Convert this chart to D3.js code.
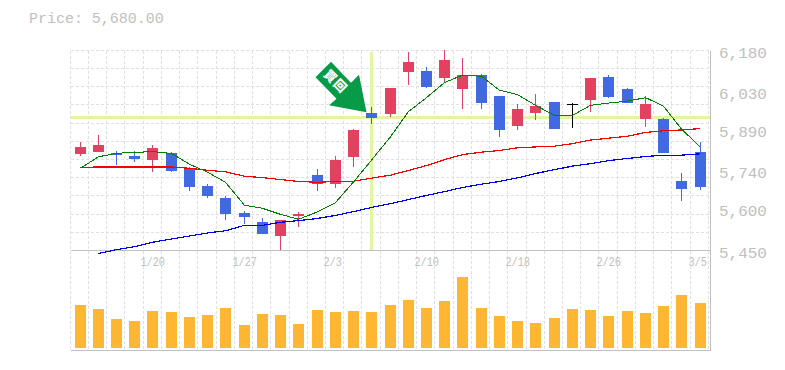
<!DOCTYPE html>
<html><head><meta charset="utf-8">
<style>html,body{margin:0;padding:0;background:#fff}svg{display:block}text{font-family:"Liberation Mono",monospace;fill:#c0c0c0}</style>
<script src="https://cdn.jsdelivr.net/npm/d3@7"></script></head><body>
<svg id="c" width="785" height="370"></svg>
<script>
const title = "Price: 5,680.00";
const open  = [5801,5809,5805,5794,5780,5805,5750,5685,5641,5586,5553,5502,5575,5725,5692,5791,5951,5947,6101,6104,6079,6039,6090,6013,5904,5951,5991,5984,5999,6083,6039,5929,5929,5703,5809];
const high  = [5845,5871,5812,5812,5834,5809,5754,5692,5648,5593,5568,5561,5590,5747,5794,5893,5973,6042,6174,6119,6181,6152,6093,6013,5984,6020,5991,5988,6079,6090,6042,6013,5933,5732,5845];
const low   = [5794,5809,5761,5772,5736,5736,5666,5641,5561,5546,5509,5451,5535,5666,5677,5754,5911,5937,6053,6042,6061,5966,5966,5864,5889,5926,5893,5896,5955,6006,5988,5900,5805,5630,5670];
const close = [5827,5834,5798,5783,5823,5739,5681,5648,5582,5571,5509,5561,5582,5692,5780,5889,5933,6042,6137,6046,6145,6090,5988,5889,5966,5977,5893,5984,6079,6010,5988,5984,5805,5674,5681];
const ma5   = [5750,5792,5805,5808,5811,5804,5765,5736,5699,5615,5604,5582,5564,5591,5625,5700,5780,5865,5957,6008,6063,6090,6086,6035,6019,5980,5943,5943,5980,5988,5995,6008,5977,5893,5827];
const ma20  = [5753,5755,5755,5755,5755,5755,5750,5743,5737,5721,5716,5709,5702,5699,5702,5703,5714,5725,5742,5760,5782,5800,5809,5815,5825,5828,5831,5840,5853,5860,5867,5881,5887,5890,5895];
const ma60  = [null,5439,5453,5464,5480,5492,5503,5514,5522,5542,5542,5553,5559,5567,5578,5592,5607,5621,5636,5651,5665,5680,5692,5702,5715,5731,5745,5758,5767,5778,5786,5793,5798,5798,5803];
const volume= [43,39,29,27,37,36,31,33,40,23,34,33,24,38,36,37,36,43,48,40,47,71,40,32,27,25,30,39,38,32,37,35,42,53,45];
const priceTicks = [6180,6030,5890,5740,5600,5450];
const dateLabels = [[4,"1/20"],[9,"1/27"],[14,"2/3"],[19,"2/10"],[24,"2/18"],[29,"2/26"],[34,"3/5"]];
const signalIndex = 16, signalPrice = 5936, signalText = "買回";

const svg = d3.select("#c");
const L = 70.5, R = 710.5, T = 50.5, B = 250.5, VB = 348;
const x = d3.scaleBand().domain(d3.range(open.length)).range([75, 706]).paddingOuter(0).paddingInner(0.397);
const bx = i => Math.floor(x(i));
const cx = i => bx(i) + 5.5;
const y = d3.scaleLinear().domain([5450, 6180]).range([B, T]);
const v = d3.scaleLinear().domain([0, 100]).range([VB, VB - 100]);

// grid
const grid = svg.append("g").attr("stroke", "#e0e0e0").attr("stroke-dasharray", "3 2").attr("shape-rendering", "crispEdges");
const gx = d3.scaleLinear().domain([0, 35]).range([70.2, 708.4]);
d3.range(0, 36).forEach(i => { const p = Math.floor(gx(i)) + 0.5;
  grid.append("line").attr("x1", p).attr("x2", p).attr("y1", T).attr("y2", 350); });
const gy = d3.scaleLinear().domain([0, 11]).range([50.2, 250.4]);
d3.range(0, 11).forEach(i => { const p = Math.floor(gy(i)) + 0.5;
  grid.append("line").attr("x1", L).attr("x2", R).attr("y1", p).attr("y2", p); });

// highlight cross
const hl = svg.append("g").attr("stroke", "#e2f5a0").attr("stroke-width", 3).attr("shape-rendering", "crispEdges");
const hy = Math.floor(y(signalPrice)) + 0.5;
hl.append("line").attr("x1", L).attr("x2", R).attr("y1", hy).attr("y2", hy);
hl.append("line").attr("x1", cx(signalIndex)).attr("x2", cx(signalIndex)).attr("y1", T + 1).attr("y2", B - 1);

// frame
const fr = svg.append("g").attr("stroke", "#c0c0c0").attr("shape-rendering", "crispEdges");
fr.append("line").attr("x1", L).attr("x2", R).attr("y1", B).attr("y2", B).attr("stroke-width", 1.5);
fr.append("line").attr("x1", L).attr("x2", R).attr("y1", 350.5).attr("y2", 350.5).attr("stroke-width", 1.5);
fr.append("line").attr("x1", R).attr("x2", R).attr("y1", T).attr("y2", 351).attr("stroke-width", 1);

// volume
svg.append("g").selectAll("rect").data(volume).join("rect")
  .attr("x", (d, i) => bx(i)).attr("width", 11)
  .attr("y", d => v(d)).attr("height", d => VB - v(d)).attr("fill", "#ffb733").attr("shape-rendering", "crispEdges");

// candles
const col = i => close[i] > open[i] ? "#e2425f" : close[i] < open[i] ? "#4169e1" : "#000";
const idx = d3.range(open.length);
const cg = svg.append("g").attr("shape-rendering", "crispEdges");
cg.selectAll("line.w").data(idx).join("line").attr("class", "w")
  .attr("x1", cx).attr("x2", cx).attr("y1", i => y(high[i])).attr("y2", i => y(low[i])).attr("stroke", col).attr("stroke-width", 1);
cg.selectAll("rect").data(idx).join("rect")
  .attr("x", bx).attr("width", 11)
  .attr("y", i => y(Math.max(open[i], close[i])))
  .attr("height", i => Math.max(Math.abs(y(open[i]) - y(close[i])), 1))
  .attr("fill", col);

// moving averages
const line = d3.line().defined(d => d != null).x((d, i) => cx(i)).y(d => y(d));
[[ma60, "#0000f0", 1.2], [ma20, "#f80000", 1.2], [ma5, "#008000", 1]].forEach(([d, c, w]) =>
  svg.append("path").datum(d).attr("d", line).attr("fill", "none").attr("stroke", c).attr("stroke-width", w).attr("shape-rendering", "crispEdges"));

// signal arrow
const tipX = cx(signalIndex) - 5, tipY = y(signalPrice) - 5;
const arrow = [[-35.5,-50.5],[-51,-35],[-30,-13.5],[-37.5,-7],[0,0],[-7.5,-37.5],[-15.5,-29.5]];
const ag = svg.append("g").attr("transform", `translate(${tipX},${tipY})`);
ag.append("polygon").attr("points", arrow.map(p => p.join(",")).join(" ")).attr("fill", "#079a47");
ag.append("text").attr("transform", "translate(-31,-31) rotate(45)").attr("text-anchor", "middle").attr("dy", "0.35em")
  .style("font-family", '"Noto Sans CJK TC"').style("font-weight", 900).style("font-size", "12.5px").style("letter-spacing", "1px").style("fill", "#fff")
  .text(signalText);

// text
svg.append("text").attr("transform", "translate(29,23) scale(1.07,1)").style("font-size", "14px").text(title);
svg.append("g").selectAll("text").data(priceTicks).join("text")
  .attr("transform", d => `translate(719,${y(d) + 7}) scale(1.14,1)`).style("font-size", "14px").text(d => d3.format(",")(d));
svg.append("g").selectAll("text").data(dateLabels).join("text")
  .attr("transform", d => `translate(${cx(d[0]) - 12},266) scale(0.85,1)`).style("font-size", "12px").text(d => d[1]);
</script></body></html>
